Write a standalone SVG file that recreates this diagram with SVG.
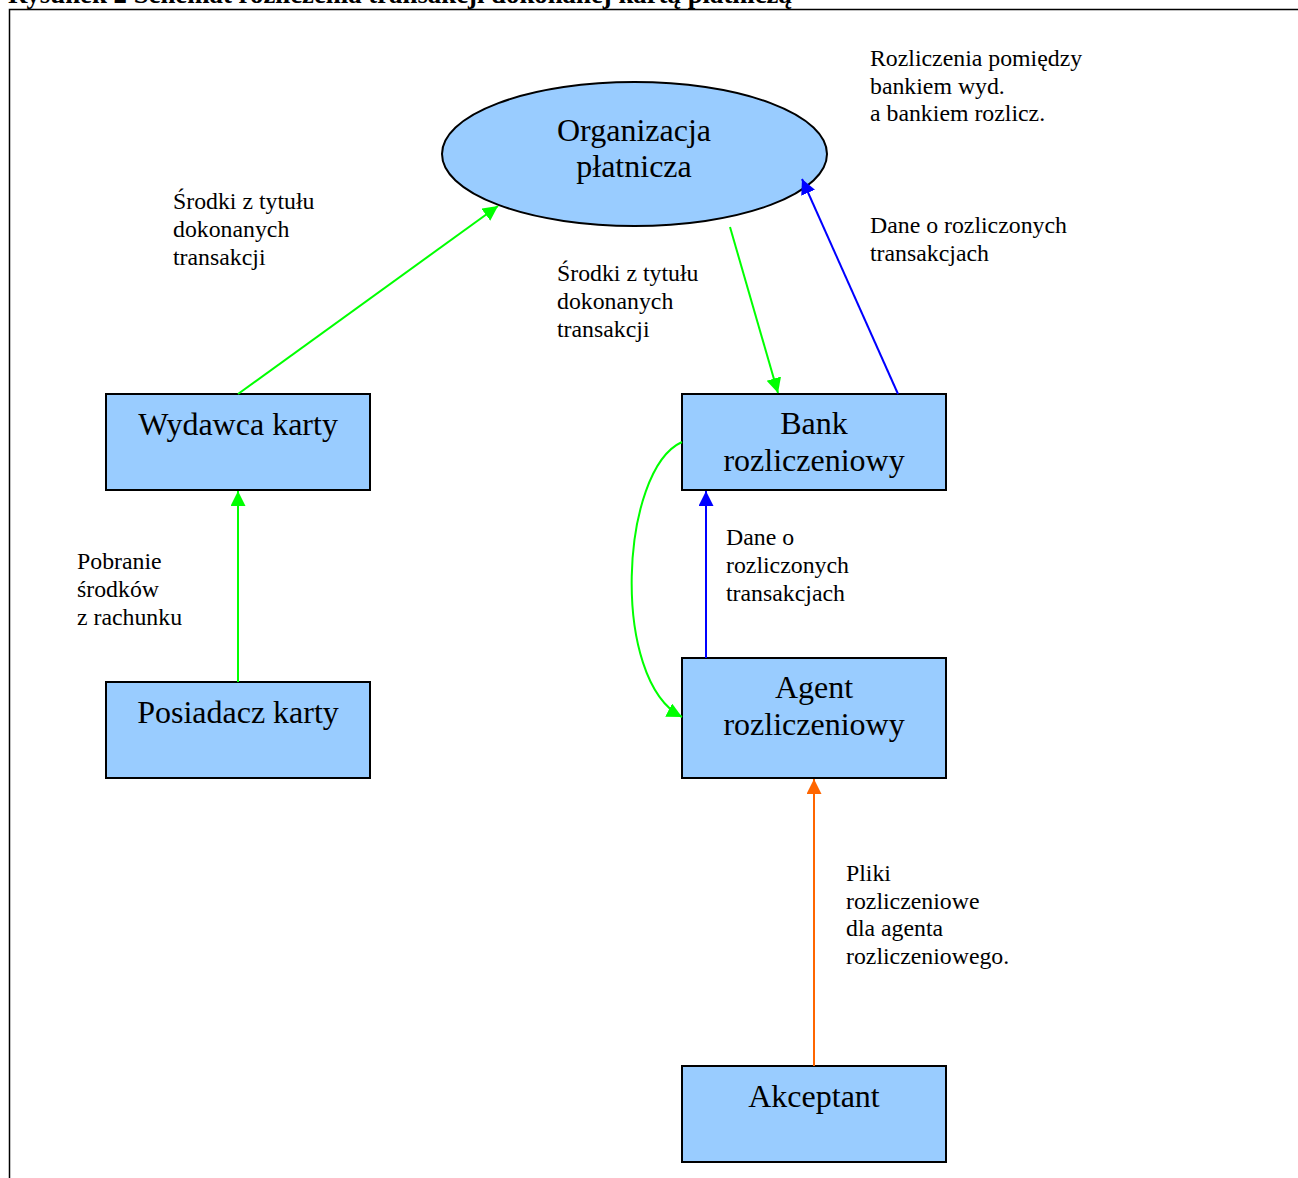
<svg xmlns="http://www.w3.org/2000/svg" width="1298" height="1178" viewBox="0 0 1298 1178">
<style>
.node{fill:#99CCFF;stroke:#000;stroke-width:2}
.nt{font-family:"Liberation Serif","Times New Roman",serif;font-size:32px;fill:#000;text-anchor:middle}
.lb{font-family:"Liberation Serif","Times New Roman",serif;font-size:23.8px;fill:#000}
.title{font-family:"Liberation Serif","Times New Roman",serif;font-size:26.8px;font-weight:bold;fill:#000}
.g{stroke:#00FF00;stroke-width:2;fill:none}
.b{stroke:#0000FF;stroke-width:2;fill:none}
.o{stroke:#FF6600;stroke-width:2;fill:none}
</style>
<defs>
<marker id="ag" markerUnits="userSpaceOnUse" markerWidth="16" markerHeight="16" refX="15" refY="7.5" orient="auto"><path d="M0,0 L15,7.5 L0,15 Z" fill="#00FF00"/></marker>
<marker id="ab" markerUnits="userSpaceOnUse" markerWidth="16" markerHeight="16" refX="15" refY="7.5" orient="auto"><path d="M0,0 L15,7.5 L0,15 Z" fill="#0000FF"/></marker>
<marker id="ao" markerUnits="userSpaceOnUse" markerWidth="16" markerHeight="16" refX="15" refY="7.5" orient="auto"><path d="M0,0 L15,7.5 L0,15 Z" fill="#FF6600"/></marker>
</defs>
<rect width="1298" height="1178" fill="#fff"/>
<text class="title" x="8" y="3">Rysunek 2 Schemat rozliczenia transakcji dokonanej kartą płatniczą</text>
<path d="M9.5,1180 L9.5,9.5 L1300,9.5" fill="none" stroke="#000" stroke-width="1.5"/>

<g id="organizacja">
<ellipse class="node" cx="634.5" cy="154" rx="192.5" ry="72"/>
<text class="nt" x="634" y="141">Organizacja</text>
<text class="nt" x="634" y="177">płatnicza</text>
</g>
<g id="wydawca">
<rect class="node" x="106" y="394" width="264" height="96"/>
<text class="nt" x="238" y="435">Wydawca karty</text>
</g>
<g id="posiadacz">
<rect class="node" x="106" y="682" width="264" height="96"/>
<text class="nt" x="238" y="723">Posiadacz karty</text>
</g>
<g id="bank">
<rect class="node" x="682" y="394" width="264" height="96"/>
<text class="nt" x="814" y="434">Bank</text>
<text class="nt" x="814" y="471">rozliczeniowy</text>
</g>
<g id="agent">
<rect class="node" x="682" y="658" width="264" height="120"/>
<text class="nt" x="814" y="698">Agent</text>
<text class="nt" x="814" y="735">rozliczeniowy</text>
</g>
<g id="akceptant">
<rect class="node" x="682" y="1066" width="264" height="96"/>
<text class="nt" x="814" y="1107">Akceptant</text>
</g>

<g id="connectors">
<line class="g" x1="238" y1="394" x2="498" y2="206" marker-end="url(#ag)"/>
<line class="g" x1="730" y1="227" x2="778" y2="393" marker-end="url(#ag)"/>
<line class="b" x1="898" y1="394" x2="802" y2="179" marker-end="url(#ab)"/>
<line class="g" x1="238" y1="682" x2="238" y2="491" marker-end="url(#ag)"/>
<line class="b" x1="706" y1="658" x2="706" y2="491" marker-end="url(#ab)"/>
<path class="g" d="M682,442 C620,470 610,680 682,717" marker-end="url(#ag)"/>
<line class="o" x1="814" y1="1066" x2="814" y2="779" marker-end="url(#ao)"/>
</g>

<g id="labels">
<text class="lb"><tspan x="870" y="66">Rozliczenia pomiędzy</tspan><tspan x="870" y="93.5">bankiem wyd.</tspan><tspan x="870" y="121">a bankiem rozlicz.</tspan></text>
<text class="lb"><tspan x="870" y="233">Dane o rozliczonych</tspan><tspan x="870" y="261">transakcjach</tspan></text>
<text class="lb"><tspan x="173" y="209">Środki z tytułu</tspan><tspan x="173" y="237">dokonanych</tspan><tspan x="173" y="265">transakcji</tspan></text>
<text class="lb"><tspan x="557" y="281">Środki z tytułu</tspan><tspan x="557" y="309">dokonanych</tspan><tspan x="557" y="337">transakcji</tspan></text>
<text class="lb"><tspan x="726" y="545">Dane o</tspan><tspan x="726" y="573">rozliczonych</tspan><tspan x="726" y="601">transakcjach</tspan></text>
<text class="lb"><tspan x="77" y="569">Pobranie</tspan><tspan x="77" y="597">środków</tspan><tspan x="77" y="625">z rachunku</tspan></text>
<text class="lb"><tspan x="846" y="881">Pliki</tspan><tspan x="846" y="909">rozliczeniowe</tspan><tspan x="846" y="936">dla agenta</tspan><tspan x="846" y="964">rozliczeniowego.</tspan></text>
</g>
</svg>
